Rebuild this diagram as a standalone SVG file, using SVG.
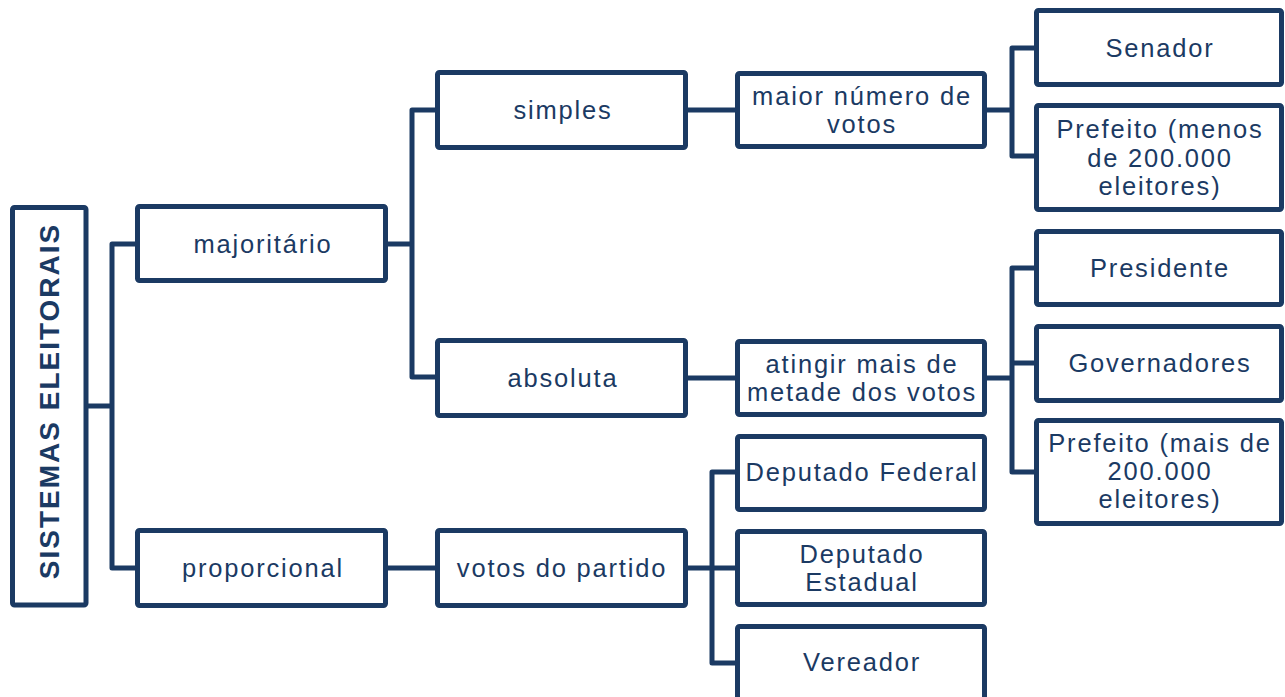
<svg xmlns="http://www.w3.org/2000/svg" width="1285" height="697" viewBox="0 0 1285 697">
<style>
.box{fill:#fff;stroke:#1b3a63;stroke-width:5;stroke-linejoin:round}
.ln{fill:none;stroke:#1b3a63;stroke-width:5;stroke-linejoin:round;stroke-linecap:butt}
text{font-family:"Liberation Sans",Arial,sans-serif;font-size:25.5px;fill:#1b3a63;text-anchor:middle;letter-spacing:1.8px}
text.root{font-weight:700;font-size:28px;letter-spacing:2px}
</style>
<rect width="1285" height="697" fill="#fff"/>
<g id="connectors">
<path class="ln" d="M88 406H112M137 244H112V568H137"/>
<path class="ln" d="M386 244H412M437 110H412V377H437"/>
<path class="ln" d="M686 110H737"/>
<path class="ln" d="M686 378H737"/>
<path class="ln" d="M386 568H437"/>
<path class="ln" d="M986 110H1012M1036 48H1012V156H1036"/>
<path class="ln" d="M986 378H1012M1036 268H1012V472H1036M1012 363H1036"/>
<path class="ln" d="M686 568H712M737 472H712V663H737M712 568H737"/>
</g>
<g id="n-root"><rect class="box" x="12.5" y="207.5" width="73.5" height="397.5" rx="2"/><text class="root" transform="translate(59 401) rotate(-90)">SISTEMAS ELEITORAIS</text></g>
<g id="n-majoritario"><rect class="box" x="137.5" y="206.5" width="248" height="74" rx="2"/><text x="263" y="253">majoritário</text></g>
<g id="n-proporcional"><rect class="box" x="137.5" y="530.5" width="248" height="75" rx="2"/><text x="263" y="577">proporcional</text></g>
<g id="n-simples"><rect class="box" x="437.5" y="72.5" width="248" height="75" rx="2"/><text x="563" y="119">simples</text></g>
<g id="n-absoluta"><rect class="box" x="437.5" y="340.5" width="248" height="75" rx="2"/><text x="563" y="387">absoluta</text></g>
<g id="n-votospartido"><rect class="box" x="437.5" y="530.5" width="248" height="75" rx="2"/><text x="562" y="577">votos do partido</text></g>
<g id="n-maior"><rect class="box" x="737.5" y="73.5" width="247" height="73" rx="2"/><text x="862" y="105">maior número de</text><text x="862" y="133">votos</text></g>
<g id="n-atingir"><rect class="box" x="737.5" y="341.5" width="247" height="73" rx="2"/><text x="862" y="373">atingir mais de</text><text x="862" y="401">metade dos votos</text></g>
<g id="n-senador"><rect class="box" x="1036.5" y="10.5" width="245" height="74" rx="2"/><text x="1160" y="57">Senador</text></g>
<g id="n-prefeito-menos"><rect class="box" x="1036.5" y="105.5" width="245" height="104" rx="2"/><text x="1160" y="138">Prefeito (menos</text><text x="1160" y="167">de 200.000</text><text x="1160" y="195">eleitores)</text></g>
<g id="n-presidente"><rect class="box" x="1036.5" y="231.5" width="245" height="73" rx="2"/><text x="1160" y="277">Presidente</text></g>
<g id="n-governadores"><rect class="box" x="1036.5" y="326.5" width="245" height="74" rx="2"/><text x="1160" y="372">Governadores</text></g>
<g id="n-prefeito-mais"><rect class="box" x="1036.5" y="420.5" width="245" height="103" rx="2"/><text x="1160" y="452">Prefeito (mais de</text><text x="1160" y="480">200.000</text><text x="1160" y="508">eleitores)</text></g>
<g id="n-depfederal"><rect class="box" x="737.5" y="436.5" width="247" height="73" rx="2"/><text x="862" y="481">Deputado Federal</text></g>
<g id="n-depestadual"><rect class="box" x="737.5" y="531.5" width="247" height="73" rx="2"/><text x="862" y="563">Deputado</text><text x="862" y="591">Estadual</text></g>
<g id="n-vereador"><rect class="box" x="737.5" y="626.5" width="247" height="100" rx="2"/><text x="862" y="671">Vereador</text></g>
</svg>
